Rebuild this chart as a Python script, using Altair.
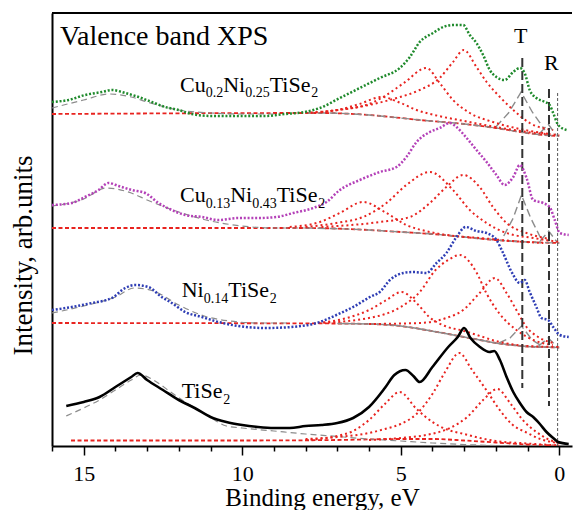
import altair as alt
import pandas as pd

SERIF = "'Liberation Serif', 'Times New Roman', Times, serif"

# ---------------- measured spectra (binding energy eV, intensity arb. units) -------------
# TiSe2 : solid black curve
tise2_E = [15.55, 15.0, 14.5, 14.0, 13.5, 13.3, 13.0, 12.5, 12.0, 11.5, 11.0, 10.5, 10.0, 9.5, 9.0,
           8.5, 8.0, 7.5, 7.0, 6.5, 6.0, 5.5, 5.2, 4.85, 4.6, 4.4, 4.0, 3.5, 3.2, 3.0, 2.8, 2.5, 2.2,
           2.05, 1.87, 1.66, 1.45, 1.24, 1.03, 0.82, 0.61, 0.4, 0.19, 0.03, -0.3, -0.66]
tise2_I = [40, 44, 49, 59, 69, 73, 66, 56, 46, 38, 29, 24, 21, 19, 18,
           18, 20, 21, 23, 28, 39, 58, 71, 76, 70, 64, 79, 99, 109, 118, 108, 99, 94,
           95, 86, 69, 54, 43, 34, 29, 22, 14, 8, 4, 2, 2]

# Ni0.14TiSe2 : blue dots
ni_E = [16.0, 15.38, 14.74, 14.11, 13.69, 13.38, 12.96, 12.54, 12.22, 11.8, 11.27, 10.75, 10.12,
        9.28, 8.44, 7.55, 7.03, 6.5, 5.97, 5.66, 5.34, 4.92, 4.61, 4.19, 3.87, 3.56, 3.24, 2.95,
        2.61, 2.29, 1.98, 1.77, 1.5, 1.24, 1.09, 0.93, 0.72, 0.56, 0.35, 0.19, -0.02, -0.3, -0.66]
ni_I = [136, 139, 143, 148, 158, 161, 159, 149, 143, 134, 129, 124, 120,
        118, 119, 124, 131, 139, 149, 154, 166, 173, 174, 173, 183, 193, 209, 219,
        215, 213, 206, 193, 174, 163, 166, 154, 139, 128, 126, 119, 111, 109, 109]

# Cu0.13Ni0.43TiSe2 : magenta dots
cuni_E = [16.0, 15.38, 14.96, 14.53, 14.22, 13.9, 13.48, 13.06, 12.64, 12.22, 11.8, 11.27, 10.75,
          10.12, 9.49, 8.92, 8.39, 7.76, 7.34, 6.92, 6.29, 5.66, 5.13, 4.82, 4.5, 4.08, 3.77, 3.45,
          3.24, 2.92, 2.61, 2.29, 1.98, 1.72, 1.45, 1.24, 1.03, 0.82, 0.51, 0.3, 0.14, -0.02, -0.3, -0.66]
cuni_I = [241, 243, 249, 256, 263, 260, 256, 253, 243, 236, 231, 229, 226,
          228, 228, 229, 233, 238, 244, 256, 266, 274, 279, 289, 304, 314, 318, 323,
          319, 308, 296, 284, 271, 261, 269, 281, 268, 246, 243, 239, 226, 213, 211, 211]

# Cu0.2Ni0.25TiSe2 : green dots
cu_E = [16.0, 15.48, 14.96, 14.43, 14.11, 13.69, 13.27, 12.85, 12.43, 12.01, 11.59, 10.96, 10.12,
        9.28, 8.65, 8.02, 7.55, 6.92, 6.29, 5.66, 5.03, 4.71, 4.4, 3.98, 3.66, 3.35, 3.03, 2.82,
        2.61, 2.4, 2.19, 1.98, 1.72, 1.45, 1.24, 1.09, 0.93, 0.72, 0.45, 0.3, 0.19, 0.03, -0.23, -0.66]
cu_I = [344, 346, 351, 354, 356, 353, 349, 344, 339, 336, 332, 330, 330,
        330, 332, 334, 338, 348, 358, 368, 378, 389, 404, 413, 419, 421, 421, 411,
        403, 391, 376, 369, 366, 374, 378, 373, 356, 348, 344, 341, 333, 321, 316, 314]

# ---------------- fitted components ----------------
# TiSe2
t_base_E = [15.4, 10.0, 7.0, 5.0, 4.0, 3.0, 2.0, 1.0, 0.0, -0.66]
t_base_I = [5.5, 5.5, 6, 7, 7, 5.5, 3.5, 1.5, 0.5, 0.5]
t_grey_E = [15.55, 15.0, 14.5, 14.0, 13.5, 13.2, 12.8, 12.3, 11.8, 11.2, 10.5, 10.0, 9.0, 8.0, 7.0,
            6.0, 5.0, 4.0, 3.0, 2.0, 1.0, 0.0]
t_grey_I = [30, 38, 46, 56, 66, 71, 66, 55, 44, 33, 20, 18, 15, 12, 9.5, 7, 5, 3, 1.5, 0.5, 0, 0]
t_c1_E = [8.0, 7.0, 6.5, 6.0, 5.5, 5.03, 4.5, 4.0, 3.5, 3.0, 2.5, 2.0, 1.0, 0.0]
t_c1_I = [6, 10, 15, 26, 42, 54, 37, 24, 16, 12, 8, 5, 2.5, 0.5]
t_c2_E = [8.0, 7.0, 6.0, 5.5, 5.0, 4.5, 4.0, 3.6, 3.15, 2.75, 2.3, 1.9, 1.5, 1.0, 0.6, 0.0]
t_c2_I = [7, 9, 13, 17, 22, 32, 52, 74, 93, 76, 56, 37, 22, 13, 7, 3]
t_c3_E = [6.0, 5.0, 4.2, 3.45, 2.9, 2.4, 1.95, 1.55, 1.15, 0.72, 0.3, 0.0, -0.66]
t_c3_I = [6, 8, 11, 18, 29, 46, 57, 43, 26, 14, 6, 3, 1]

# Ni0.14TiSe2
b_base_E = [16.0, 7.0, 6.0, 5.0, 4.2, 3.5, 3.0, 2.5, 2.0, 1.5, 1.0, 0.5, 0.0, -0.66]
b_base_I = [123, 122.5, 122, 120, 116, 112, 109, 106, 103, 101, 99.5, 99, 98.5, 98.5]
b_grey_E = [16.0, 15.0, 14.0, 13.4, 12.8, 12.0, 11.2, 10.4, 9.5, 8.5]
b_grey_I = [133, 140, 149, 158, 155, 141, 130, 125, 123, 123]
b_c1_E = [7.6, 6.7, 6.0, 5.5, 4.97, 4.5, 4.1, 3.6, 3.0, 2.5, 2.0, 1.0, 0.0]
b_c1_I = [123, 128, 136, 145, 154, 143, 129, 120, 115, 110, 105, 100, 99]
b_c2_E = [7.6, 6.0, 5.0, 4.4, 3.9, 3.5, 3.14, 2.6, 2.3, 1.9, 1.35, 0.82, 0.2, -0.66]
b_c2_I = [123, 128, 139, 154, 176, 186, 191, 173, 153, 133, 116, 106, 101, 99]
b_c3_E = [6.0, 4.4, 3.56, 3.03, 2.51, 2.03, 1.66, 1.35, 1.03, 0.61, 0.19, -0.66]
b_c3_I = [122, 123, 128, 136, 153, 168, 153, 136, 119, 108, 103, 99]
b_T_E = [1.9, 1.55, 1.19, 0.85, 0.5]
b_T_I = [103, 108, 120, 106, 99]
b_R_E = [0.65, 0.35, 0.05]
b_R_I = [100, 108, 99]

# Cu0.13Ni0.43TiSe2
m_base_E = [16.0, 8.0, 6.0, 5.0, 4.0, 3.0, 2.0, 1.0, 0.0, -0.66]
m_base_I = [218, 218, 216, 214, 212, 209, 206, 204, 203, 203]
m_grey_E = [16.0, 15.0, 14.3, 13.5, 13.0, 12.0, 11.0, 10.0, 9.0, 8.0]
m_grey_I = [240, 247, 258, 253, 246, 234, 225, 220, 218, 218]
m_c1_E = [8.5, 7.55, 6.92, 6.19, 5.45, 4.82, 4.08, 3.3, 2.5, 1.5, 0.5]
m_c1_I = [219, 224, 233, 244, 233, 221, 214, 210, 208, 205, 203]
m_c2_E = [8.0, 7.03, 6.19, 5.45, 4.82, 4.08, 3.35, 2.82, 2.29, 1.66, 0.82, 0.0]
m_c2_I = [219, 223, 229, 243, 261, 274, 256, 236, 223, 213, 208, 204]
m_c3_E = [7.5, 5.66, 4.71, 4.08, 3.56, 3.03, 2.51, 2.09, 1.66, 1.03, 0.3, -0.66]
m_c3_I = [219, 224, 229, 243, 259, 271, 259, 239, 223, 213, 207, 204]
m_T_E = [1.75, 1.45, 1.19, 0.9, 0.6]
m_T_I = [210, 228, 251, 228, 209]
m_R_E = [0.6, 0.33, 0.05]
m_R_I = [205, 215, 203]

# Cu0.2Ni0.25TiSe2
g_base_E = [16.0, 8.0, 7.5, 6.0, 5.0, 4.4, 3.0, 2.0, 1.24, 0.5, 0.0, -0.66]
g_base_I = [332, 333, 333, 331, 328, 326, 322, 318, 314, 311, 310, 310]
g_grey_E = [16.0, 15.0, 14.2, 13.5, 13.0, 12.0, 11.0, 10.0, 9.0]
g_grey_I = [338, 346, 352, 349, 344, 336, 333, 332, 332]
g_c1_E = [8.0, 7.0, 6.3, 5.6, 5.0, 4.5, 3.8, 3.0, 2.0, 1.0, 0.0]
g_c1_I = [333, 336, 342, 349, 343, 336, 330, 325, 319, 314, 311]
g_c2_E = [8.0, 7.0, 6.0, 5.5, 4.9, 4.19, 3.77, 3.35, 2.82, 2.09, 1.24, 0.3]
g_c2_I = [333, 336, 342, 350, 363, 378, 363, 346, 333, 324, 317, 312]
g_c3_E = [7.5, 6.0, 5.13, 4.4, 3.77, 3.35, 3.01, 2.61, 2.29, 1.87, 1.45, 0.93, 0.19, -0.66]
g_c3_I = [334, 341, 348, 356, 368, 384, 396, 379, 364, 349, 336, 323, 316, 311]
g_T_E = [2.0, 1.6, 1.2, 0.85, 0.45]
g_T_I = [319, 333, 354, 334, 316]
g_R_E = [0.6, 0.35, 0.1]
g_R_I = [313, 322, 311]

# vertical marker lines (T, R, Fermi level)
vline_name = ["T", "R", "EF"]
vline_E = [1.164, 0.322, 0.05]
vline_top = [388, 357, 353]
vline_bottom = [58, 40, 0]

# labels
title_text = ["Valence band XPS"]
title_E = [15.75]
title_I = [401]
main_text = ["Cu", "Ni", "TiSe", "Cu", "Ni", "TiSe", "Ni", "TiSe", "TiSe", "T", "R"]
main_E = [11.96, 10.60, 9.133, 11.96, 10.38, 8.912, 11.91, 10.44, 11.91, 1.426, 0.479]
main_I = [354, 354, 354, 244, 244, 244, 149, 149, 48, 403, 376]
sub_text = ["0.2", "0.25", "2", "0.13", "0.43", "2", "0.14", "2", "2"]
sub_E = [11.15, 9.905, 7.82, 11.15, 9.685, 7.60, 11.215, 9.13, 10.60]
sub_I = [349, 349, 349, 238, 238, 238, 143, 143, 42]


def curve(E, I, name, kind):
    return pd.DataFrame({"E": E, "I": I, "curve": name, "kind": kind})


df = pd.concat([
    curve(tise2_E, tise2_I, "tise2", "solid"),
    curve(ni_E, ni_I, "blue", "dots"),
    curve(cuni_E, cuni_I, "magenta", "dots"),
    curve(cu_E, cu_I, "green", "dots"),
    curve(t_base_E, t_base_I, "t_base", "base"),
    curve(b_base_E, b_base_I, "b_base", "base"),
    curve(m_base_E, m_base_I, "m_base", "base"),
    curve(g_base_E, g_base_I, "g_base", "base"),
    curve(t_grey_E, t_grey_I, "t_grey", "grey"),
    curve(b_grey_E, b_grey_I, "b_grey", "grey"),
    curve(m_grey_E, m_grey_I, "m_grey", "grey"),
    curve(g_grey_E, g_grey_I, "g_grey", "grey"),
    curve(t_c1_E, t_c1_I, "t_c1", "comp"),
    curve(t_c2_E, t_c2_I, "t_c2", "comp"),
    curve(t_c3_E, t_c3_I, "t_c3", "comp"),
    curve(b_c1_E, b_c1_I, "b_c1", "comp"),
    curve(b_c2_E, b_c2_I, "b_c2", "comp"),
    curve(b_c3_E, b_c3_I, "b_c3", "comp"),
    curve(m_c1_E, m_c1_I, "m_c1", "comp"),
    curve(m_c2_E, m_c2_I, "m_c2", "comp"),
    curve(m_c3_E, m_c3_I, "m_c3", "comp"),
    curve(g_c1_E, g_c1_I, "g_c1", "comp"),
    curve(g_c2_E, g_c2_I, "g_c2", "comp"),
    curve(g_c3_E, g_c3_I, "g_c3", "comp"),
    curve(b_T_E, b_T_I, "b_T", "tri"),
    curve(b_R_E, b_R_I, "b_R", "tri"),
    curve(m_T_E, m_T_I, "m_T", "tri"),
    curve(m_R_E, m_R_I, "m_R", "tri"),
    curve(g_T_E, g_T_I, "g_T", "tri"),
    curve(g_R_E, g_R_I, "g_R", "tri"),
], ignore_index=True)

vlines = pd.DataFrame({"name": vline_name, "E": vline_E, "I": vline_top, "I2": vline_bottom})
titles = pd.DataFrame({"t": title_text, "E": title_E, "I": title_I})
mains = pd.DataFrame({"t": main_text, "E": main_E, "I": main_I})
subs = pd.DataFrame({"t": sub_text, "E": sub_E, "I": sub_I})

W, H = 520, 433
E_RIGHT = 16 - W / 31.7
RED = "#e8231f"
GREY = "#8c8c8c"

xs = alt.Scale(domain=[16, E_RIGHT], nice=False, zero=False)
ys = alt.Scale(domain=[0, 433], nice=False, zero=False)

x_axis = alt.Axis(
    values=list(range(0, 17)),
    labelExpr="datum.value % 5 === 0 ? datum.label : ''",
    tickSize={"condition": {"test": "datum.value % 5 === 0", "value": 9}, "value": 5},
    tickWidth=1.5, tickColor="black", domainColor="black", domainWidth=2,
    labelFont=SERIF, labelFontSize=22, labelColor="black", labelPadding=8,
    labelFlush=False, labelOverlap=False,
    title="Binding energy, eV", titleFont=SERIF, titleFontSize=25,
    titleFontWeight="normal", titleColor="black", titleBaseline="alphabetic",
    titleY=59, titleX=270, grid=False)
y_axis = alt.Axis(
    labels=False, ticks=False, domainColor="black", domainWidth=2,
    title="Intensity, arb.units", titleFont=SERIF, titleFontSize=27,
    titleFontWeight="normal", titleColor="black", titlePadding=15, titleY=242,
    grid=False)

X = alt.X("E:Q", scale=xs, axis=x_axis)
Y = alt.Y("I:Q", scale=ys, axis=y_axis)
ORDER = alt.Order("E:Q", sort="descending")

base = alt.Chart(df).transform_filter(alt.datum.E >= E_RIGHT - 0.05)


def lines(kind, extra=None, **mark):
    ch = base.transform_filter(alt.datum.kind == kind)
    if extra is not None:
        ch = ch.transform_filter(extra)
    return ch.mark_line(clip=True, **mark).encode(x=X, y=Y, detail="curve:N", order=ORDER)


red_base = lines("base", strokeDash=[4, 2.5], strokeWidth=1.8, color=RED, interpolate="monotone")
grey_shirley = lines("base", "datum.E <= 8 && datum.curve != 'b_base' && datum.curve != 't_base'",
                     strokeDash=[8, 4], strokeWidth=1.4, color=GREY, interpolate="monotone")
grey_solid = lines("base", "datum.E <= 9 && datum.curve == 'b_base'",
                   strokeWidth=1.6, color=GREY, interpolate="monotone")
grey_peaks = lines("grey", strokeDash=[6, 4], strokeWidth=1.2, color=GREY, interpolate="monotone")
tri_peaks = lines("tri", strokeDash=[8, 4], strokeWidth=1.4, color=GREY, interpolate="linear")
comps = lines("comp", strokeDash=[2, 3], strokeWidth=2, color=RED, interpolate="monotone")

dots = base.transform_filter(alt.datum.kind == "dots").mark_line(
    clip=True, strokeDash=[2, 1.8], strokeWidth=2.5, interpolate="monotone").encode(
    x=X, y=Y, order=ORDER,
    color=alt.Color("curve:N", scale=alt.Scale(domain=["green", "magenta", "blue"],
                                               range=["#1f8a2c", "#b441b8", "#2e3db4"]),
                    legend=None))
solid = lines("solid", strokeWidth=2.6, color="black", interpolate="monotone")

vl = alt.Chart(vlines)
v_thick = vl.transform_filter("datum.name != 'EF'").mark_rule(
    color="#333333", strokeWidth=2, strokeDash=[9, 4]).encode(x=X, y=Y, y2="I2:Q")
v_thin = vl.transform_filter("datum.name == 'EF'").mark_rule(
    color="#555555", strokeWidth=1, strokeDash=[3, 2]).encode(x=X, y=Y, y2="I2:Q")

title_txt = alt.Chart(titles).mark_text(font=SERIF, fontSize=28, align="left",
                                        baseline="alphabetic", color="black").encode(x=X, y=Y, text="t:N")
main_txt = alt.Chart(mains).mark_text(font=SERIF, fontSize=22, align="left",
                                      baseline="alphabetic", color="black").encode(x=X, y=Y, text="t:N")
sub_txt = alt.Chart(subs).mark_text(font=SERIF, fontSize=14, align="left",
                                    baseline="alphabetic", color="black").encode(x=X, y=Y, text="t:N")

top_border = alt.Chart(pd.DataFrame({"k": [0]})).mark_rule(color="black", strokeWidth=2).encode(
    x=alt.value(0), x2=alt.value(W), y=alt.value(0))

chart = alt.layer(
    red_base, grey_shirley, grey_solid, grey_peaks, tri_peaks, comps,
    v_thick, v_thin, dots, solid, title_txt, main_txt, sub_txt, top_border
).properties(
    width=W, height=H,
    autosize=alt.AutoSizeParams(type="none"),
    padding={"left": 44, "top": 5, "right": 1, "bottom": 64},
    background="white",
).configure_view(stroke=None)

chart.save("out.html", embed_options={"renderer": "svg", "actions": False})
